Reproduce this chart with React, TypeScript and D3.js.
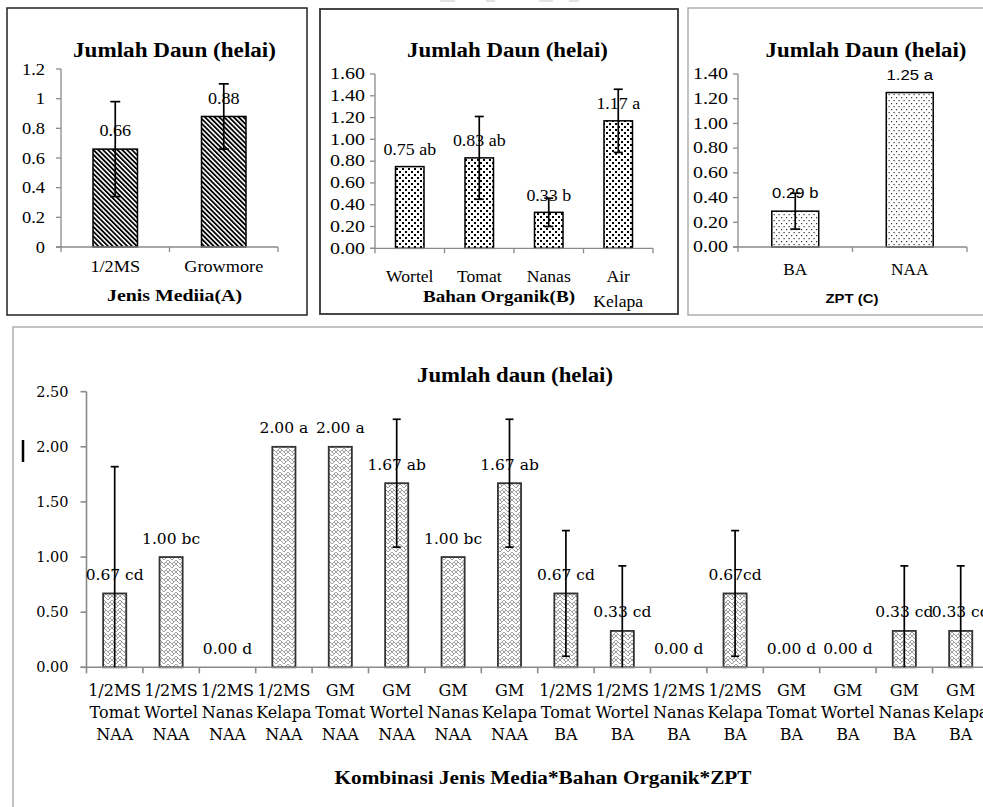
import React from "react";
import * as d3 from "d3";

// ---------- DATA ----------
const mediaCats = [["1/2MS"], ["Growmore"]];
const mediaVals = [0.66, 0.88];
const mediaErr = [0.32, 0.22];
const mediaLabels = ["0.66", "0.88"];
const mediaTicks = [0, 0.2, 0.4, 0.6, 0.8, 1, 1.2];

const organikCats = [["Wortel"], ["Tomat"], ["Nanas"], ["Air", "Kelapa"]];
const organikVals = [0.75, 0.83, 0.33, 1.17];
const organikErr = [0, 0.38, 0.13, 0.29];
const organikLabels = ["0.75 ab", "0.83 ab", "0.33 b", "1.17 a"];
const organikTicks = [0, 0.2, 0.4, 0.6, 0.8, 1.0, 1.2, 1.4, 1.6];

const zptCats = [["BA"], ["NAA"]];
const zptVals = [0.29, 1.25];
const zptErr = [0.145, 0];
const zptLabels = ["0.29 b", "1.25 a"];
const zptTicks = [0, 0.2, 0.4, 0.6, 0.8, 1.0, 1.2, 1.4];

const kombCats = [
  ["1/2MS", "Tomat", "NAA"], ["1/2MS", "Wortel", "NAA"], ["1/2MS", "Nanas", "NAA"], ["1/2MS", "Kelapa", "NAA"],
  ["GM", "Tomat", "NAA"], ["GM", "Wortel", "NAA"], ["GM", "Nanas", "NAA"], ["GM", "Kelapa", "NAA"],
  ["1/2MS", "Tomat", "BA"], ["1/2MS", "Wortel", "BA"], ["1/2MS", "Nanas", "BA"], ["1/2MS", "Kelapa", "BA"],
  ["GM", "Tomat", "BA"], ["GM", "Wortel", "BA"], ["GM", "Nanas", "BA"], ["GM", "Kelapa", "BA"],
];
const kombVals = [0.67, 1.0, 0.0, 2.0, 2.0, 1.67, 1.0, 1.67, 0.67, 0.33, 0.0, 0.67, 0.0, 0.0, 0.33, 0.33];
const kombErr = [1.15, 0, 0, 0, 0, 0.58, 0, 0.58, 0.57, 0.59, 0, 0.57, 0, 0, 0.59, 0.59];
const kombLabels = ["0.67 cd", "1.00 bc", "0.00 d", "2.00 a", "2.00 a", "1.67 ab", "1.00 bc", "1.67 ab",
  "0.67 cd", "0.33 cd", "0.00 d", "0.67cd", "0.00 d", "0.00 d", "0.33 cd", "0.33 cd"];
const kombTicks = [0, 0.5, 1.0, 1.5, 2.0, 2.5];

// ---------- HELPERS ----------
type TS = { family: string; size: number; weight?: string | number; sx?: number; fill?: string };

const SERIF = "'Liberation Serif', 'Times New Roman', Tinos, Times, serif";
const SANS = "'Liberation Sans', Arial, Arimo, Helvetica, sans-serif";
const DJ = "'DejaVu Serif', serif";

function SText(p: { x: number; y: number; s: TS; anchor?: string; children: React.ReactNode }) {
  const { x, y, s, anchor = "middle", children } = p;
  return (
    <text
      transform={`translate(${x},${y}) scale(${s.sx ?? 1},1)`}
      textAnchor={anchor as any}
      dominantBaseline="central"
      style={{ fontFamily: s.family, fontSize: s.size + "px", fontWeight: s.weight ?? "normal" } as any}
      fill={s.fill ?? "#000"}
    >
      {children}
    </text>
  );
}

function FitText(p: { x: number; y: number; w: number; family: string; size: number; weight?: string | number; children: string }) {
  return (
    <text
      x={p.x}
      y={p.y}
      textAnchor="middle"
      dominantBaseline="central"
      style={{ fontFamily: p.family, fontSize: p.size + "px", fontWeight: p.weight ?? "bold" } as any}
      textLength={p.w}
      lengthAdjust="spacingAndGlyphs"
      fill="#000"
    >
      {p.children}
    </text>
  );
}

type PanelProps = {
  cats: string[][];
  vals: number[];
  errs: number[];
  labels: string[];
  ticks: number[];
  yMax: number;
  x0: number;
  x1: number;
  yBase: number;
  yTop: number;
  pattern: string;
  tickFmt: (v: number) => string;
  tickStyle: TS;
  tickRight: number;
  valStyle: TS;
  catStyle: TS;
  catY: number;
  catLineH: number;
  axisColor: string;
  axisW: number;
  tickLen: number;
  barStroke: string;
  barStrokeW: number;
  capHalf: number;
  labelOffset: number;
};

function Panel(p: PanelProps) {
  const idx = d3.range(p.cats.length);
  const xb = d3.scaleBand<number>().domain(idx).range([p.x0, p.x1]).paddingInner(0).paddingOuter(0);
  const y = d3.scaleLinear().domain([0, p.yMax]).range([p.yBase, p.yTop]);
  const bw = xb.bandwidth() * 0.41;
  const boundaries = d3.range(p.cats.length + 1).map((i) => p.x0 + i * xb.bandwidth());
  const cxOf = (i: number) => (xb(i) as number) + xb.bandwidth() / 2;
  return (
    <g>
      {idx.map((i) => {
        const v = p.vals[i];
        if (v <= 0) return null;
        return (
          <rect
            key={"b" + i}
            x={cxOf(i) - bw / 2}
            y={y(v)}
            width={bw}
            height={y(0) - y(v)}
            fill={`url(#${p.pattern})`}
            stroke={p.barStroke}
            strokeWidth={p.barStrokeW}
          />
        );
      })}
      <line x1={p.x0} x2={p.x0} y1={y(0)} y2={y(p.yMax)} stroke={p.axisColor} strokeWidth={p.axisW} />
      <line x1={p.x0 - p.tickLen} x2={p.x1} y1={y(0)} y2={y(0)} stroke={p.axisColor} strokeWidth={p.axisW} />
      {p.ticks.map((t) => (
        <line key={"yt" + t} x1={p.x0 - p.tickLen} x2={p.x0} y1={y(t)} y2={y(t)} stroke={p.axisColor} strokeWidth={p.axisW} />
      ))}
      {boundaries.map((bx, i) => (
        <line key={"xt" + i} x1={bx} x2={bx} y1={y(0)} y2={y(0) + p.tickLen} stroke={p.axisColor} strokeWidth={p.axisW} />
      ))}
      {idx.map((i) => {
        const e = p.errs[i];
        if (!e) return null;
        const cx = cxOf(i);
        const v = p.vals[i];
        const lo = Math.max(0, v - e);
        const hi = v + e;
        return (
          <g key={"e" + i} stroke="#000" strokeWidth={1.7}>
            <line x1={cx} x2={cx} y1={y(lo)} y2={y(hi)} />
            <line x1={cx - p.capHalf} x2={cx + p.capHalf} y1={y(hi)} y2={y(hi)} />
            {v - e >= 0 && <line x1={cx - p.capHalf} x2={cx + p.capHalf} y1={y(lo)} y2={y(lo)} />}
          </g>
        );
      })}
      {idx.map((i) => (
        <SText key={"v" + i} x={cxOf(i)} y={y(p.vals[i]) - p.labelOffset} s={p.valStyle}>
          {p.labels[i]}
        </SText>
      ))}
      {p.ticks.map((t) => (
        <SText key={"tl" + t} x={p.tickRight} y={y(t)} s={p.tickStyle} anchor="end">
          {p.tickFmt(t)}
        </SText>
      ))}
      {idx.map((i) =>
        p.cats[i].map((line, j) => (
          <SText key={"c" + i + "_" + j} x={cxOf(i)} y={p.catY + j * p.catLineH} s={p.catStyle}>
            {line}
          </SText>
        ))
      )}
    </g>
  );
}

export default function App() {
  const fmt0 = (v: number) => String(+v.toFixed(1));
  const fmt2 = d3.format(".2f");
  return (
    <svg width={983} height={807} style={{ position: "absolute", left: 0, top: 0, background: "#fff" }}>
      <defs>
        <pattern id="hatch" width={3.4} height={3.4} patternUnits="userSpaceOnUse" patternTransform="rotate(-45)">
          <rect width={3.4} height={3.4} fill="#fff" />
          <rect width={1.8} height={3.4} fill="#000" />
        </pattern>
        <pattern id="dots" width={6} height={6} patternUnits="userSpaceOnUse">
          <rect width={6} height={6} fill="#fff" />
          <rect x={0} y={0} width={2} height={2} fill="#000" />
          <rect x={3} y={3} width={2} height={2} fill="#000" />
        </pattern>
        <pattern id="fine" width={5} height={6} patternUnits="userSpaceOnUse">
          <rect width={5} height={6} fill="#fff" />
          <rect x={1} y={1} width={1.2} height={1.2} fill="#333" />
          <rect x={3.5} y={4} width={1.2} height={1.2} fill="#333" />
        </pattern>
        <pattern id="weave" width={8} height={8} patternUnits="userSpaceOnUse">
          <rect width={8} height={8} fill="#fff" />
          <path d="M0,0 L4,4 L8,0 M0,4 L4,8 L8,4 M2,2 L0,4 M6,2 L8,4 M4,4 L6,6" stroke="#a0a0a0" strokeWidth={1} fill="none" />
        </pattern>
      </defs>

      <g fill="#e2e2e2">
        <rect x={440} y={0} width={15} height={2} />
        <rect x={486} y={0} width={9} height={2} />
        <rect x={539} y={0} width={14} height={2} />
        <rect x={569} y={0} width={10} height={2} />
      </g>

      <rect x={7} y={8} width={300} height={307} fill="none" stroke="#222" strokeWidth={1.5} />
      <rect x={320} y={9} width={358} height={305} fill="none" stroke="#333" strokeWidth={1.8} />
      <rect x={688} y={8} width={400} height={307} fill="none" stroke="#9a9a9a" strokeWidth={1.2} />
      <rect x={13} y={327} width={1000} height={600} fill="none" stroke="#9a9a9a" strokeWidth={1.2} />

      {/* Panel 1 */}
      <FitText x={174.5} y={49.5} w={203} family={SERIF} size={20}>Jumlah Daun (helai)</FitText>
      <Panel
        cats={mediaCats} vals={mediaVals} errs={mediaErr} labels={mediaLabels} ticks={mediaTicks} yMax={1.2}
        x0={61} x1={278} yBase={247} yTop={69} pattern="hatch" tickFmt={fmt0}
        tickStyle={{ family: SERIF, size: 16.5, sx: 1.12 }} tickRight={45}
        valStyle={{ family: SERIF, size: 16.5, sx: 1.1 }} catStyle={{ family: SERIF, size: 16, sx: 1.14 }}
        catY={267} catLineH={23} axisColor="#8a8a8a" axisW={1.3} tickLen={5}
        barStroke="#000" barStrokeW={1.5} capHalf={5} labelOffset={18}
      />
      <FitText x={174.5} y={295} w={135} family={SERIF} size={17}>Jenis Mediia(A)</FitText>

      {/* Panel 2 */}
      <FitText x={507.5} y={50} w={201} family={SERIF} size={20}>Jumlah Daun (helai)</FitText>
      <Panel
        cats={organikCats} vals={organikVals} errs={organikErr} labels={organikLabels} ticks={organikTicks} yMax={1.6}
        x0={375} x1={653} yBase={248.3} yTop={74} pattern="dots" tickFmt={fmt2}
        tickStyle={{ family: SERIF, size: 16, sx: 1.25 }} tickRight={365}
        valStyle={{ family: SERIF, size: 16, sx: 1.12 }} catStyle={{ family: SERIF, size: 16, sx: 1.1 }}
        catY={276.5} catLineH={25} axisColor="#8a8a8a" axisW={1.3} tickLen={5}
        barStroke="#000" barStrokeW={1.5} capHalf={4.5} labelOffset={17}
      />
      <FitText x={499} y={296} w={152} family={SERIF} size={17}>Bahan Organik(B)</FitText>

      {/* Panel 3 */}
      <FitText x={866} y={50} w={201} family={SERIF} size={20}>Jumlah Daun (helai)</FitText>
      <Panel
        cats={zptCats} vals={zptVals} errs={zptErr} labels={zptLabels} ticks={zptTicks} yMax={1.4}
        x0={738} x1={967} yBase={247} yTop={74} pattern="fine" tickFmt={fmt2}
        tickStyle={{ family: SERIF, size: 16, sx: 1.25 }} tickRight={728}
        valStyle={{ family: SANS, size: 14.5, sx: 1.15 }} catStyle={{ family: SERIF, size: 16, sx: 1.08 }}
        catY={270} catLineH={23} axisColor="#8a8a8a" axisW={1.3} tickLen={5}
        barStroke="#000" barStrokeW={1.5} capHalf={5} labelOffset={18}
      />
      <FitText x={852} y={298} w={53} family={SANS} size={13.5}>ZPT (C)</FitText>

      {/* Bottom panel */}
      <FitText x={515} y={375} w={196} family={SERIF} size={20}>Jumlah daun (helai)</FitText>
      <line x1={23} x2={23} y1={440} y2={462} stroke="#000" strokeWidth={2.5} />
      <Panel
        cats={kombCats} vals={kombVals} errs={kombErr} labels={kombLabels} ticks={kombTicks} yMax={2.5}
        x0={86.5} x1={86.5 + 16 * 56.4} yBase={667.3} yTop={391.7} pattern="weave" tickFmt={fmt2}
        tickStyle={{ family: DJ, size: 14.5 }} tickRight={68.5}
        valStyle={{ family: DJ, size: 15.5 }} catStyle={{ family: DJ, size: 16 }}
        catY={690} catLineH={22} axisColor="#8a8a8a" axisW={1.6} tickLen={6}
        barStroke="#333" barStrokeW={1.8} capHalf={4} labelOffset={18.5}
      />
      <FitText x={543} y={778} w={417} family={SERIF} size={18}>Kombinasi Jenis Media*Bahan Organik*ZPT</FitText>
    </svg>
  );
}
